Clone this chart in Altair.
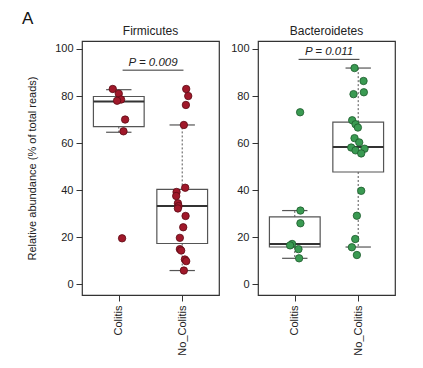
import altair as alt
import pandas as pd

# ---- data ----
groups = ["Colitis", "No_Colitis"]
group_pos = [1, 2]
panel_letter = ["A"]
panel_titles = ["Firmicutes", "Bacteroidetes"]

firm_col_vals = [83, 81, 78.5, 78, 70, 65, 19.5]
firm_col_jit = [-0.095, 0.0, 0.036, -0.027, 0.10, 0.074, 0.052]
firm_nc_vals = [83, 80, 76.2, 67.7, 41, 39.2, 37.5, 34.4, 33.2, 32.2, 29, 24.2, 19.7, 14.9, 14.3, 10.5, 9.8, 5.8]
firm_nc_jit = [0.063, 0.095, 0.058, 0.026, 0.047, -0.089, -0.095, -0.068, -0.058, -0.068, 0.053, 0.016,
               -0.037, -0.037, -0.016, 0.042, 0.063, 0.026]

bact_col_vals = [73.1, 31.3, 25.9, 17.1, 16.5, 14.9, 11.0]
bact_col_jit = [0.084, 0.089, 0.089, -0.042, -0.074, 0.058, 0.068]
bact_nc_vals = [91.9, 86.4, 81.6, 80.8, 69.7, 68.0, 66.6, 62.1, 60.3, 58.1, 57.6, 56.9, 55.6, 39.7, 29.1, 19.2, 15.7, 12.4]
bact_nc_jit = [-0.058, 0.084, 0.089, -0.074, -0.095, -0.042, -0.005, -0.058, 0.016, -0.11, 0.10, -0.042,
               0.047, 0.047, -0.021, -0.047, -0.10, -0.021]

# box statistics (Colitis, No_Colitis)
firm_q1 = [67.0, 17.3]
firm_med = [77.7, 33.2]
firm_q3 = [79.8, 40.3]
firm_wlo = [64.6, 5.8]
firm_whi = [82.7, 67.7]

bact_q1 = [15.8, 47.7]
bact_med = [17.1, 58.3]
bact_q3 = [28.6, 68.9]
bact_wlo = [11.0, 15.8]
bact_whi = [31.3, 91.9]

firm_p = "P = 0.009"
bact_p = "P = 0.011"
firm_p_line = 91.0
bact_p_line = 95.6

FONT = "Liberation Sans"
W, H = 137, 254
XDOM = [0.42, 2.58]
YDOM = [-4.6, 103.4]


def panel(title, col_vals, col_jit, nc_vals, nc_jit, q1, med, q3, wlo, whi,
          ptext, pline, fill, stroke, ytitle, letter=None):
    pts = pd.DataFrame({
        "x": [group_pos[0] + j for j in col_jit] + [group_pos[1] + j for j in nc_jit],
        "y": col_vals + nc_vals,
    })
    stats = pd.DataFrame({"pos": group_pos, "q1": q1, "med": med, "q3": q3,
                          "wlo": wlo, "whi": whi})
    stats["lo"] = stats["pos"] - 0.4
    stats["hi"] = stats["pos"] + 0.4
    stats["slo"] = stats["pos"] - 0.2
    stats["shi"] = stats["pos"] + 0.2

    xs = alt.Scale(domain=XDOM, nice=False, zero=False)
    ys = alt.Scale(domain=YDOM, nice=False, zero=False)
    xaxis = alt.Axis(values=group_pos, labelExpr="datum.value == 1 ? 'Colitis' : 'No_Colitis'",
                     labelAngle=270, title=None, grid=False, domain=False, tickSize=6,
                     tickColor="#333", labelColor="#222", labelFont=FONT, labelFontSize=11,
                     labelPadding=4)
    yaxis = alt.Axis(values=[0, 20, 40, 60, 80, 100], grid=False, domain=False, tickSize=6,
                     tickColor="#333", labelColor="#222", labelFont=FONT, labelFontSize=11,
                     labelPadding=3, title=ytitle if ytitle else None,
                     titleFont=FONT, titleFontSize=11, titleFontWeight="normal",
                     titleColor="#222", titlePadding=17)

    base = alt.Chart(stats)
    wh_up = base.mark_rule(color="#555", strokeDash=[2, 2], strokeWidth=1).encode(
        x=alt.X("pos:Q", scale=xs, axis=xaxis), y=alt.Y("q3:Q", scale=ys, axis=yaxis), y2="whi:Q")
    wh_dn = base.mark_rule(color="#555", strokeDash=[2, 2], strokeWidth=1).encode(
        x=alt.X("pos:Q", scale=xs), y=alt.Y("q1:Q", scale=ys), y2="wlo:Q")
    box = base.mark_rect(fill="white", fillOpacity=0, stroke="#555", strokeWidth=1.2).encode(
        x=alt.X("lo:Q", scale=xs), x2="hi:Q", y=alt.Y("q1:Q", scale=ys), y2="q3:Q")
    medl = base.mark_rule(color="#333", strokeWidth=2).encode(
        x=alt.X("lo:Q", scale=xs), x2="hi:Q", y=alt.Y("med:Q", scale=ys))
    st_hi = base.mark_rule(color="#555", strokeWidth=1.2).encode(
        x=alt.X("slo:Q", scale=xs), x2="shi:Q", y=alt.Y("whi:Q", scale=ys))
    st_lo = base.mark_rule(color="#555", strokeWidth=1.2).encode(
        x=alt.X("slo:Q", scale=xs), x2="shi:Q", y=alt.Y("wlo:Q", scale=ys))
    points = alt.Chart(pts).mark_circle(size=55, opacity=1, fill=fill, stroke=stroke,
                                        strokeWidth=0.8).encode(
        x=alt.X("x:Q", scale=xs), y=alt.Y("y:Q", scale=ys))

    pdf = pd.DataFrame({"x1": [1.06], "x2": [2.02], "xm": [1.54], "y": [pline],
                        "label": [ptext]})
    pl = alt.Chart(pdf).mark_rule(color="#333", strokeWidth=1).encode(
        x=alt.X("x1:Q", scale=xs), x2="x2:Q", y=alt.Y("y:Q", scale=ys))
    pt = alt.Chart(pdf).mark_text(font=FONT, fontSize=11.5, fontStyle="italic", color="#222",
                                  baseline="bottom", dy=-2).encode(
        x=alt.X("xm:Q", scale=xs), y=alt.Y("y:Q", scale=ys), text="label:N")

    ttl = alt.Chart(pd.DataFrame({"t": [title]})).mark_text(
        font=FONT, fontSize=12, color="#222", align="center", baseline="alphabetic").encode(
        x=alt.value(W / 2), y=alt.value(-6), text="t:N")

    layers = [wh_up, wh_dn, box, medl, st_hi, st_lo, points, pl, pt, ttl]
    if letter:
        lt = alt.Chart(pd.DataFrame({"t": letter})).mark_text(
            font=FONT, fontSize=17, color="#111", align="left", baseline="top").encode(
            x=alt.value(-60), y=alt.value(-30), text="t:N")
        layers.append(lt)

    return alt.layer(*layers).properties(width=W, height=H)


left = panel(panel_titles[0], firm_col_vals, firm_col_jit, firm_nc_vals, firm_nc_jit,
             firm_q1, firm_med, firm_q3, firm_wlo, firm_whi, firm_p, firm_p_line,
             "#a0182a", "#5c0a14", "Relative abundance (% of total reads)", panel_letter)
right = panel(panel_titles[1], bact_col_vals, bact_col_jit, bact_nc_vals, bact_nc_jit,
              bact_q1, bact_med, bact_q3, bact_wlo, bact_whi, bact_p, bact_p_line,
              "#3a9a52", "#1d5a2c", None)

chart = alt.hconcat(left, right, spacing=10).properties(
    padding={"left": 13, "top": 1, "right": 5, "bottom": 5},
    background="white",
).configure_view(stroke="#333", strokeWidth=1.2)

chart.save("out.html", embed_options={"renderer": "svg", "actions": False})
